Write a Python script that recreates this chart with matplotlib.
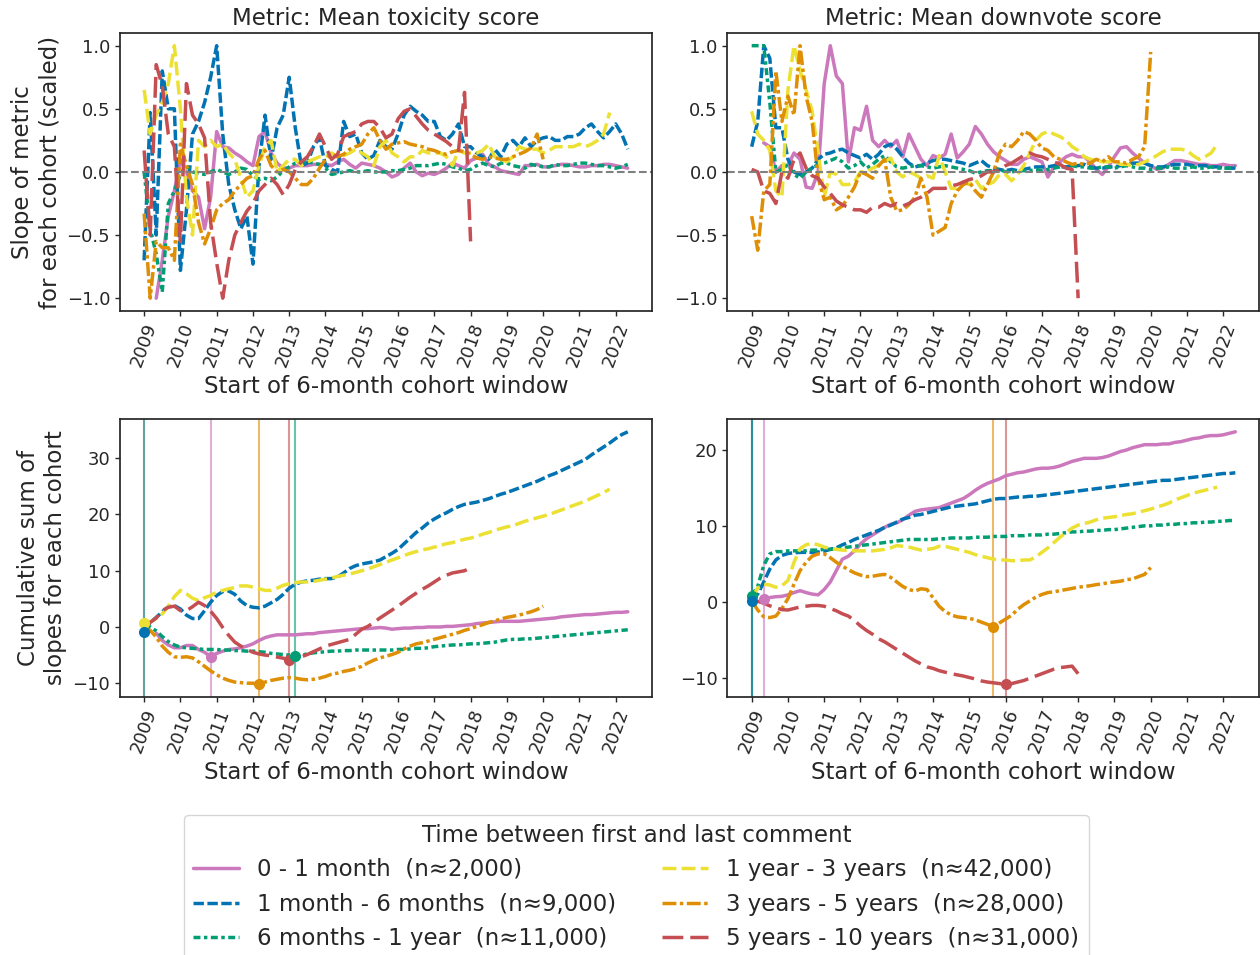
import numpy as np
import matplotlib.pyplot as plt
import seaborn as sns

sns.set_theme(style='ticks')
plt.rcParams['font.family'] = ['DejaVu Sans']

nan = np.nan

# start of each 6-month cohort window, read every 2 months (Jan 2009 .. May 2022)
window_start = 2009 + np.arange(81) / 6.0
years = np.arange(2009, 2023)

labels = ['0 - 1 month  (n≈2,000)',
          '1 month - 6 months  (n≈9,000)',
          '6 months - 1 year  (n≈11,000)',
          '1 year - 3 years  (n≈42,000)',
          '3 years - 5 years  (n≈28,000)',
          '5 years - 10 years  (n≈31,000)']

# ---- slope of mean toxicity score (scaled) ----
tox_pink = [nan, nan, -1.0, -0.7, -0.35, -0.15,
            0.1, 0.0, -0.15, -0.2, -0.45, -0.2,
            0.32, 0.2, 0.19, 0.15, 0.12, 0.08,
            0.05, 0.28, 0.32, 0.15, 0.07, 0.03,
            0.03, 0.05, 0.05, 0.05, 0.06, 0.06,
            0.06, 0.05, 0.08, 0.1, 0.06, 0.03,
            0.07, 0.06, 0.05, 0.03, 0.0, -0.04,
            -0.02, 0.03, 0.07, 0.0, -0.03, -0.01,
            -0.02, 0.0, 0.03, 0.07, 0.05, 0.03,
            0.09, 0.11, 0.14, 0.06, 0.04, 0.01,
            0.0, -0.01, -0.02, 0.05, 0.05, 0.06,
            0.04, 0.04, 0.05, 0.06, 0.06, 0.05,
            0.04, 0.04, 0.05, 0.05, 0.06, 0.06,
            0.05, 0.04, 0.03]
tox_blue = [-0.7, 0.47, -0.5, 0.8, 0.5, 0.5,
            -0.78, -0.3, 0.3, 0.4, 0.55, 0.75,
            1.0, 0.3, -0.1, -0.3, -0.45, -0.35,
            -0.73, 0.05, 0.45, 0.1, 0.35, 0.45,
            0.75, 0.35, 0.05, 0.07, 0.2, 0.27,
            0.05, 0.02, 0.0, 0.4, 0.28, 0.3,
            0.15, 0.1, 0.13, 0.25, 0.2, 0.18,
            0.3, 0.45, 0.52, 0.48, 0.45, 0.4,
            0.4, 0.28, 0.25, 0.3, 0.38, 0.2,
            0.2, 0.15, 0.12, 0.1, 0.18, 0.12,
            0.22, 0.25, 0.2, 0.27, 0.2, 0.25,
            0.27, 0.28, 0.25, 0.25, 0.28, 0.28,
            0.3, 0.35, 0.38, 0.32, 0.27, 0.32,
            0.38, 0.3, 0.18]
tox_green = [0.0, -0.45, -0.65, -0.95, -0.25, -0.15,
             -0.02, 0.05, 0.0, -0.01, -0.02, 0.0,
             0.02, 0.0, -0.02, 0.0, 0.03, 0.02,
             -0.03, -0.06, -0.05, -0.07, -0.04, 0.01,
             0.04, 0.07, 0.08, 0.08, 0.07, 0.06,
             0.03, -0.02, -0.01, 0.0, 0.01, 0.0,
             0.0, 0.01, 0.0, 0.0, 0.0, 0.01,
             0.01, 0.02, 0.03, 0.05, 0.05, 0.05,
             0.06, 0.07, 0.06, 0.04, 0.03, 0.01,
             0.02, 0.05, 0.07, 0.05, 0.04, 0.07,
             0.07, 0.05, 0.04, 0.03, 0.06, 0.05,
             0.04, 0.04, 0.06, 0.05, 0.05, 0.06,
             0.07, 0.07, 0.06, 0.05, 0.05, 0.04,
             0.03, 0.04, 0.06]
tox_yellow = [0.65, 0.3, 0.45, 0.55, 0.7, 1.0,
              0.5, -0.2, -0.5, 0.25, 0.2, 0.25,
              0.2, 0.22, 0.15, 0.1, -0.05, -0.2,
              -0.15, 0.05, 0.2, 0.25, 0.0, 0.05,
              0.1, 0.1, 0.05, 0.08, 0.1, 0.12,
              0.12, 0.15, 0.12, 0.13, 0.15, 0.18,
              0.15, 0.12, 0.05, 0.2, 0.25, 0.15,
              0.12, 0.08, 0.12, 0.12, 0.17, 0.15,
              0.15, 0.15, 0.12, 0.05, 0.17, 0.15,
              0.15, 0.15, 0.17, 0.22, 0.12, 0.1,
              0.08, 0.12, 0.2, 0.18, 0.18, 0.18,
              0.15, 0.17, 0.2, 0.2, 0.2, 0.2,
              0.22, 0.2, 0.22, 0.25, 0.3, 0.47]
tox_orange = [-0.33, -1.0, -0.55, -0.6, -0.6, -0.7,
              0.22, 0.05, -0.1, -0.4, -0.57, -0.45,
              -0.3, -0.25, -0.22, -0.15, -0.1, -0.05,
              -0.03, 0.1, 0.17, 0.05, 0.0, 0.02,
              0.0, -0.05, -0.1, -0.1, -0.05, 0.03,
              0.1, 0.14, 0.12, 0.14, 0.18, 0.2,
              0.22, 0.3, 0.35, 0.25, 0.18, 0.22,
              0.23, 0.24, 0.22, 0.21, 0.2, 0.18,
              0.17, 0.15, 0.14, 0.16, 0.17, 0.16,
              0.14, 0.11, 0.1, 0.12, 0.11, 0.1,
              0.1, 0.12, 0.14, 0.16, 0.19, 0.3,
              0.1]
tox_red = [0.17, -0.5, 0.85, 0.68, 0.3, 0.2,
           -0.55, 0.7, 0.45, 0.38, 0.27, -0.4,
           -0.72, -1.0, -0.7, -0.5, -0.4, -0.31,
           -0.25, -0.15, -0.1, -0.05, -0.1, -0.18,
           -0.1, 0.02, 0.08, 0.12, 0.2, 0.3,
           0.2, 0.1, 0.14, 0.28, 0.3, 0.32,
           0.38, 0.4, 0.4, 0.35, 0.27, 0.3,
           0.42, 0.48, 0.5, 0.44, 0.38, 0.33,
           0.3, 0.27, 0.24, 0.2, 0.17, 0.63,
           -0.55]

# ---- slope of mean downvote score (scaled) ----
dv_pink = [nan, nan, 0.23, 0.2, 0.0, 0.05,
           0.05, 0.15, 0.1, -0.12, -0.13, 0.0,
           0.7, 1.0, 0.76, 0.7, 0.08, 0.35,
           0.33, 0.52, 0.25, 0.2, 0.25, 0.2,
           0.25, 0.12, 0.3, 0.2, 0.1, 0.05,
           0.13, 0.11, 0.14, 0.3, 0.11, 0.16,
           0.22, 0.36, 0.3, 0.22, 0.16, 0.12,
           0.09, 0.06, 0.06, 0.1, 0.12, 0.1,
           0.08, -0.04, 0.04, 0.08, 0.12, 0.14,
           0.12, 0.12, 0.08, 0.02, -0.02, 0.04,
           0.12, 0.19, 0.2, 0.15, 0.11, 0.07,
           0.05, 0.02, 0.03, 0.06, 0.09, 0.09,
           0.08, 0.07, 0.06, 0.06, 0.05, 0.05,
           0.06, 0.05, 0.05]
dv_blue = [0.2, 0.4, 1.0, 0.9, 0.35, 0.35,
           0.1, 0.0, -0.02, 0.0, 0.03, 0.1,
           0.14, 0.15, 0.17, 0.18, 0.15, 0.13,
           0.11, 0.14, 0.1, 0.14, 0.2, 0.22,
           0.18, 0.12, 0.07, 0.04, 0.05, 0.07,
           0.09, 0.1, 0.1, 0.09, 0.08, 0.07,
           0.05, 0.07, 0.09, 0.05, 0.03, 0.02,
           0.01, 0.02, 0.01, 0.02, 0.03, 0.04,
           0.04, 0.04, 0.05, 0.04, 0.04, 0.05,
           0.05, 0.06, 0.04, 0.03, 0.03, 0.04,
           0.04, 0.05, 0.06, 0.07, 0.07, 0.07,
           0.05, 0.04, 0.04, 0.05, 0.06, 0.06,
           0.06, 0.05, 0.05, 0.05, 0.04, 0.04,
           0.03, 0.03, 0.03]
dv_green = [1.0, 1.0, 1.0, 0.55, 0.0, 0.02,
            0.06, -0.02, -0.05, 0.0, 0.03, 0.06,
            0.07, 0.09, 0.11, 0.08, 0.03, 0.05,
            0.08, 0.03, 0.06, 0.1, 0.13, 0.08,
            0.04, 0.03, 0.04, 0.05, 0.05, 0.04,
            0.03, 0.04, 0.05, 0.04, 0.03, 0.02,
            0.01, -0.01, 0.0, 0.01, 0.01, 0.02,
            0.0, 0.0, 0.01, 0.01, 0.01, 0.02,
            0.01, 0.02, 0.03, 0.04, 0.04, 0.05,
            0.04, 0.04, 0.03, 0.03, 0.04, 0.04,
            0.03, 0.04, 0.05, 0.04, 0.03, 0.03,
            0.02, 0.03, 0.03, 0.04, 0.03, 0.03,
            0.03, 0.04, 0.03, 0.03, 0.04, 0.03,
            0.03, 0.03, 0.04]
dv_yellow = [0.48, 0.3, 0.25, 0.17, -0.15, -0.2,
             0.65, 1.0, 0.8, 0.65, 0.48, 0.15,
             -0.2, 0.0, -0.02, -0.1, -0.1, -0.08,
             0.0, 0.0, 0.03, 0.05, 0.08, 0.11,
             0.0, -0.04, 0.0, -0.02, -0.05, -0.03,
             -0.05, 0.13, 0.0, -0.13, -0.13, -0.08,
             -0.1, -0.06, -0.13, -0.1, -0.08, -0.02,
             -0.02, -0.07, -0.02, 0.05, 0.15, 0.25,
             0.3, 0.32, 0.3, 0.28, 0.25, 0.2,
             0.17, 0.12, 0.1, 0.09, 0.08, 0.08,
             0.09, 0.06, 0.06, 0.05, 0.06, 0.08,
             0.1, 0.13, 0.16, 0.18, 0.18, 0.18,
             0.17, 0.13, 0.1, 0.12, 0.15, 0.22]
dv_orange = [-0.35, -0.62, -0.15, -0.1, 0.8, 0.4,
             0.6, 0.45, 1.0, 0.6, 0.4, -0.05,
             -0.22, -0.2, -0.3, -0.27, -0.2, -0.12,
             0.0, -0.02, -0.05, 0.05, 0.1, -0.2,
             -0.31, -0.3, -0.26, -0.2, -0.05, -0.2,
             -0.5, -0.47, -0.44, -0.25, -0.15, -0.1,
             -0.08, -0.15, -0.2, -0.1, 0.0, 0.15,
             0.22, 0.2, 0.25, 0.32, 0.3, 0.25,
             0.19, 0.17, 0.12, 0.1, 0.08, 0.06,
             0.07, 0.06, 0.07, 0.1, 0.08, 0.12,
             0.08, 0.08, 0.07, 0.1, 0.12, 0.2,
             0.95]
dv_red = [0.02, 0.0, -0.15, -0.17, -0.25, 0.0,
          -0.05, 0.1, 0.15, 0.03, -0.03, -0.05,
          -0.12, -0.17, -0.23, -0.26, -0.28, -0.3,
          -0.3, -0.32, -0.28, -0.28, -0.25, -0.27,
          -0.25, -0.27, -0.25, -0.22, -0.2, -0.17,
          -0.13, -0.13, -0.13, -0.11, -0.1, -0.08,
          -0.06, -0.05, -0.03, 0.0, 0.0, 0.02,
          0.05, 0.07, 0.1, 0.13, 0.15, 0.13,
          0.12, 0.1, 0.08, 0.06, 0.03, 0.02,
          -1.0]

# ---- cumulative sum of slopes, toxicity ----
cum_tox_pink = [nan, nan, -1.1, -2.4, -3.2, -3.7,
                -3.7, -3.3, -3.3, -4.0, -4.5, -5.3,
                -4.7, -4.3, -4.0, -3.9, -3.7, -3.4,
                -3.0, -2.4, -1.9, -1.6, -1.4, -1.4,
                -1.4, -1.4, -1.3, -1.2, -1.2, -1.0,
                -0.9, -0.8, -0.7, -0.6, -0.5, -0.4,
                -0.3, -0.3, -0.2, -0.1, -0.2, -0.4,
                -0.3, -0.2, -0.2, -0.1, -0.1, 0.0,
                0.0, 0.0, 0.1, 0.1, 0.2, 0.3,
                0.4, 0.6, 0.7, 0.8, 0.9, 1.0,
                1.0, 1.0, 1.0, 1.1, 1.2, 1.3,
                1.4, 1.5, 1.6, 1.8, 1.9, 2.0,
                2.1, 2.2, 2.2, 2.3, 2.4, 2.5,
                2.6, 2.6, 2.7]
cum_tox_blue = [-0.9, 0.8, 1.7, 2.7, 3.6, 3.8,
                3.2, 2.1, 1.5, 1.5, 2.9, 4.4,
                5.6, 6.3, 6.4, 5.8, 4.6, 3.8,
                3.5, 3.4, 3.7, 4.3, 4.9, 5.8,
                6.9, 7.6, 8.0, 8.2, 8.3, 8.5,
                8.6, 8.6, 8.9, 9.6, 10.4, 10.9,
                11.2, 11.4, 11.6, 11.9, 12.5, 13.1,
                13.8, 14.8, 15.8, 16.8, 17.6, 18.5,
                19.2, 19.8, 20.3, 20.9, 21.4, 21.8,
                22.0, 22.2, 22.5, 22.8, 23.2, 23.6,
                23.9, 24.3, 24.7, 25.1, 25.5, 25.9,
                26.4, 26.9, 27.3, 27.8, 28.3, 28.8,
                29.3, 29.8, 30.6, 31.3, 32.0, 32.7,
                33.5, 34.2, 34.7]
cum_tox_green = [-0.3, 0.0, -0.7, -1.7, -2.6, -3.2,
                 -3.6, -3.7, -3.8, -3.9, -4.0, -4.0,
                 -4.0, -4.1, -4.1, -4.2, -4.2, -4.3,
                 -4.3, -4.4, -4.5, -4.7, -4.8, -4.9,
                 -5.0, -5.2, -5.0, -4.8, -4.6, -4.5,
                 -4.4, -4.3, -4.3, -4.2, -4.2, -4.1,
                 -4.1, -4.1, -4.1, -4.1, -4.1, -4.1,
                 -4.0, -4.0, -3.9, -3.8, -3.8, -3.7,
                 -3.5, -3.4, -3.3, -3.2, -3.2, -3.1,
                 -3.0, -3.0, -2.9, -2.8, -2.7, -2.5,
                 -2.3, -2.2, -2.2, -2.1, -2.1, -2.0,
                 -1.9, -1.8, -1.7, -1.6, -1.5, -1.4,
                 -1.3, -1.2, -1.1, -1.0, -0.9, -0.8,
                 -0.7, -0.6, -0.5]
cum_tox_yellow = [0.7, 0.9, 1.5, 2.3, 3.7, 5.4,
                  6.5, 5.9, 5.1, 4.7, 5.2, 5.6,
                  6.2, 6.5, 6.8, 7.0, 7.3, 7.3,
                  7.1, 6.8, 6.5, 6.5, 6.9, 7.4,
                  7.7, 7.9, 8.0, 8.0, 8.1, 8.3,
                  8.5, 8.7, 9.0, 9.2, 9.4, 9.7,
                  10.0, 10.3, 10.7, 11.1, 11.5, 11.9,
                  12.3, 12.7, 13.1, 13.4, 13.7, 13.9,
                  14.2, 14.5, 14.8, 15.0, 15.3, 15.6,
                  15.8, 16.1, 16.5, 16.8, 17.2, 17.5,
                  17.8, 18.0, 18.4, 18.8, 19.1, 19.4,
                  19.7, 20.0, 20.4, 20.8, 21.2, 21.6,
                  22.0, 22.4, 22.9, 23.4, 23.9, 24.5]
cum_tox_orange = [-0.6, -0.6, -1.8, -3.4, -4.5, -5.3,
                  -5.4, -5.3, -5.5, -6.2, -7.0, -7.8,
                  -8.5, -9.1, -9.5, -9.8, -9.9, -10.0,
                  -10.0, -10.2, -9.8, -9.5, -9.3, -9.1,
                  -9.0, -9.1, -9.3, -9.4, -9.3, -9.1,
                  -8.8, -8.4, -8.2, -7.9, -7.7, -7.4,
                  -7.0, -6.4, -5.9, -5.5, -5.2, -4.9,
                  -4.5, -3.9, -3.4, -3.0, -2.8, -2.5,
                  -2.2, -1.9, -1.6, -1.3, -1.0, -0.6,
                  -0.3, 0.1, 0.4, 0.8, 1.1, 1.4,
                  1.7, 1.9, 2.1, 2.4, 2.7, 3.1,
                  3.7]
cum_tox_red = [-0.5, 0.8, 1.6, 2.9, 3.5, 3.7,
               2.9, 2.9, 3.6, 4.4, 3.8, 2.8,
               1.5, -0.1, -1.5, -2.7, -3.4, -4.0,
               -4.5, -4.8, -5.0, -5.1, -5.35, -5.55,
               -5.85, -5.6, -5.3, -4.9, -4.4, -3.9,
               -3.4, -3.1, -2.8, -2.5, -2.2, -1.3,
               -0.4, 0.1, 0.8, 1.6, 2.3, 3.0,
               3.7, 4.5, 5.3, 6.0, 6.7, 7.3,
               8.0, 8.7, 9.2, 9.6, 9.8, 10.0,
               10.5]

# ---- cumulative sum of slopes, downvotes ----
cum_dv_pink = [nan, nan, 0.35, 0.55, 0.65, 0.7,
               0.9, 1.2, 1.45, 1.2, 1.0, 0.9,
               1.6, 2.6, 4.1, 5.6, 6.0, 6.7,
               7.6, 8.3, 8.8, 9.3, 9.8, 10.2,
               10.4, 10.8, 11.4, 11.9, 12.1, 12.2,
               12.3, 12.4, 12.7, 13.0, 13.3, 13.6,
               14.1, 14.7, 15.2, 15.6, 15.9, 16.2,
               16.6, 16.8, 17.0, 17.1, 17.3, 17.5,
               17.6, 17.6, 17.7, 17.9, 18.2, 18.5,
               18.7, 18.9, 18.9, 18.9, 19.0, 19.2,
               19.5, 19.8, 20.0, 20.3, 20.5, 20.7,
               20.7, 20.7, 20.8, 20.8, 21.0, 21.1,
               21.3, 21.5, 21.6, 21.8, 21.9, 21.9,
               22.0, 22.2, 22.4]
cum_dv_blue = [0.1, 1.0, 2.6, 4.3, 5.5, 6.1,
               6.35, 6.45, 6.5, 6.5, 6.5, 6.55,
               6.65, 6.9, 7.1, 7.5, 7.8, 8.2,
               8.5, 8.8, 9.1, 9.4, 9.8, 10.1,
               10.5, 10.9, 11.1, 11.4, 11.5, 11.7,
               11.9, 12.1, 12.3, 12.5, 12.6, 12.7,
               12.8, 12.9, 13.1, 13.3, 13.5, 13.6,
               13.6, 13.7, 13.8, 13.8, 13.9, 13.9,
               14.0, 14.1, 14.2, 14.3, 14.4, 14.5,
               14.6, 14.7, 14.8, 14.9, 15.0, 15.1,
               15.2, 15.3, 15.4, 15.5, 15.6, 15.7,
               15.8, 15.9, 16.0, 16.0, 16.1, 16.2,
               16.3, 16.4, 16.5, 16.6, 16.7, 16.8,
               16.9, 16.9, 17.0]
cum_dv_green = [0.8, 2.0, 4.8, 6.3, 6.6, 6.6,
                6.7, 6.7, 6.7, 6.7, 6.8, 6.8,
                6.9, 6.9, 7.0, 7.1, 7.2, 7.3,
                7.4, 7.5, 7.6, 7.7, 7.8, 7.9,
                8.0, 8.1, 8.2, 8.2, 8.2, 8.2,
                8.2, 8.3, 8.3, 8.4, 8.4, 8.4,
                8.4, 8.5, 8.5, 8.5, 8.6, 8.6,
                8.6, 8.7, 8.7, 8.7, 8.8, 8.8,
                8.8, 8.9, 8.9, 9.0, 9.1, 9.2,
                9.2, 9.3, 9.3, 9.4, 9.4, 9.5,
                9.5, 9.6, 9.7, 9.8, 9.9, 10.0,
                10.0, 10.1, 10.1, 10.2, 10.2, 10.3,
                10.3, 10.4, 10.4, 10.5, 10.5, 10.6,
                10.6, 10.7, 10.7]
cum_dv_yellow = [0.5, 1.8, 2.3, 2.2, 1.9, 2.1,
                 2.8, 5.2, 7.0, 7.5, 7.7, 7.5,
                 7.2, 7.0, 6.9, 6.8, 6.75, 6.7,
                 6.7, 6.7, 6.7, 6.8, 6.9, 7.1,
                 7.4, 7.3, 7.2, 7.0, 6.8, 6.9,
                 7.0, 7.3, 7.3, 7.1, 6.9, 6.7,
                 6.5, 6.2, 6.0, 5.8, 5.6, 5.5,
                 5.5, 5.4, 5.4, 5.5, 5.5, 5.9,
                 6.5, 7.1, 7.8, 8.5, 9.1, 9.7,
                 10.1, 10.3, 10.5, 10.8, 11.0, 11.1,
                 11.2, 11.35, 11.5, 11.6, 11.8, 12.0,
                 12.2, 12.5, 12.7, 13.0, 13.4, 13.7,
                 14.0, 14.3, 14.5, 14.7, 14.9, 15.1]
cum_dv_orange = [0.1, -1.1, -2.0, -2.1, -1.9, -0.9,
                 0.4, 2.3, 4.1, 5.2, 6.0, 6.3,
                 6.3, 5.8, 5.2, 4.7, 4.2, 3.8,
                 3.5, 3.3, 3.35, 3.5, 3.6, 3.2,
                 2.6, 2.0, 1.6, 1.4, 1.7, 1.6,
                 0.5, -0.6, -1.3, -1.75, -2.0, -2.1,
                 -2.2, -2.4, -2.7, -3.0, -3.3, -2.8,
                 -2.3, -1.8, -1.0, -0.4, 0.1, 0.6,
                 0.95, 1.2, 1.3, 1.45, 1.6, 1.75,
                 1.9, 2.0, 2.1, 2.25, 2.35, 2.5,
                 2.6, 2.7, 2.9, 3.0, 3.3, 3.6,
                 4.5]
cum_dv_red = [0.1, 0.05, -0.2, -0.55, -0.8, -1.05,
              -1.1, -0.9, -0.7, -0.6, -0.5, -0.5,
              -0.6, -0.9, -1.2, -1.6, -1.9, -2.5,
              -3.2, -3.8, -4.3, -4.9, -5.3, -5.8,
              -6.3, -6.8, -7.3, -7.8, -8.2, -8.6,
              -8.8, -9.1, -9.3, -9.5, -9.65, -9.8,
              -10.0, -10.2, -10.45, -10.6, -10.7, -10.8,
              -10.9, -10.8, -10.6, -10.4, -10.1, -9.8,
              -9.5, -9.2, -8.9, -8.7, -8.6, -8.5,
              -9.5]

colors = ['#cc78bc', '#0173b2', '#029e73', '#ece133', '#de8f05', '#c44e52']
styles = ['-', (0, (3, 1)), (0, (2, 1, 1, 1)), (0, (4, 1.5)),
          (0, (4, 1, 1, 1)), (0, (6, 2))]

tox = [tox_pink, tox_blue, tox_green, tox_yellow, tox_orange, tox_red]
dv = [dv_pink, dv_blue, dv_green, dv_yellow, dv_orange, dv_red]
cum_tox = [cum_tox_pink, cum_tox_blue, cum_tox_green, cum_tox_yellow,
           cum_tox_orange, cum_tox_red]
cum_dv = [cum_dv_pink, cum_dv_blue, cum_dv_green, cum_dv_yellow,
          cum_dv_orange, cum_dv_red]

FS = 16.5
TS = 13
fig, axes = plt.subplots(2, 2, figsize=(12.6, 9.55), dpi=100)
fig.subplots_adjust(left=0.0952, right=0.9996, top=0.9654, bottom=0.2702,
                    wspace=0.142, hspace=0.39)


def draw(ax, series, mark_min=False):
    for vals, lab, col, ls in zip(series, labels, colors, styles):
        vals = np.array(vals, dtype=float)
        x = window_start[:len(vals)]
        ax.plot(x, vals, color=col, ls=ls, lw=2.5, label=lab)
    if mark_min:
        # line at the lowest point of each cohort; drawn last-to-first
        for vals, col in list(zip(series, colors))[::-1]:
            vals = np.array(vals, dtype=float)
            i = np.nanargmin(vals)
            ax.axvline(window_start[i], color=col, lw=1.5, alpha=0.6, zorder=1)
            ax.plot(window_start[i], vals[i], 'o', color=col, ms=7)
    ax.set_xticks(years)
    ax.set_xticklabels(years, rotation=70, fontsize=TS)
    ax.tick_params(axis='both', length=3.5, width=1.0)
    ax.tick_params(axis='y', labelsize=TS)
    ax.set_xlabel('Start of 6-month cohort window', fontsize=FS)


draw(axes[0, 0], tox)
draw(axes[0, 1], dv)
draw(axes[1, 0], cum_tox, mark_min=True)
draw(axes[1, 1], cum_dv, mark_min=True)

for ax in axes[0]:
    ax.axhline(0, color='grey', ls='--', lw=1.5)

axes[0, 0].set_title('Metric: Mean toxicity score', fontsize=FS)
axes[0, 1].set_title('Metric: Mean downvote score', fontsize=FS)
axes[0, 0].set_ylabel('Slope of metric\nfor each cohort (scaled)', fontsize=FS)
axes[1, 0].set_ylabel('Cumulative sum of\nslopes for each cohort', fontsize=FS)

handles, labs = axes[0, 0].get_legend_handles_labels()
fig.legend(handles, labs, loc='upper center', bbox_to_anchor=(0.505, 0.159),
           ncol=2, fontsize=FS, title='Time between first and last comment',
           title_fontsize=FS)

plt.savefig('out.png', dpi=100)
